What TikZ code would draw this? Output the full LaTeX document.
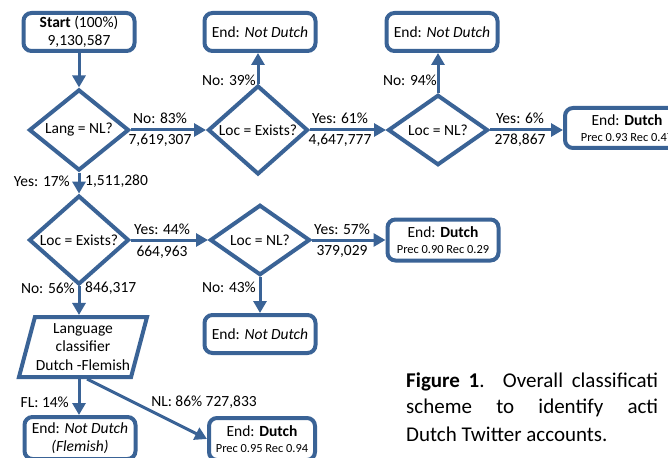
\documentclass[tikz,border=0pt]{standalone}
\usepackage{fontspec}
\setmainfont{Carlito}
\usetikzlibrary{shapes.geometric,arrows.meta}
\definecolor{flowblue}{RGB}{58,99,150}
\newcommand{\smalltxt}{\fontsize{12.4}{14}\selectfont}
\begin{document}
\begin{tikzpicture}[x=1pt,y=-1pt,>={Triangle[width=13pt,length=12pt]},
    txt/.style={font=\fontsize{15.5}{18.5}\selectfont},
    box/.style={txt,draw=flowblue,line width=4pt,rounded corners=8pt,fill=white,align=center,inner sep=1pt,minimum width=111pt,minimum height=38pt},
    dia/.style={txt,draw=flowblue,line width=4pt,diamond,inner sep=0pt,minimum width=100pt,minimum height=70pt},
    lbl/.style={txt,inner sep=0pt},
    flow/.style={->,draw=flowblue,line width=3pt}]
    \clip (0,0) rectangle (668,457);
    %\draw[gray!30,step=20pt] (0,0) grid (668,457);
    % top row
    \node[box] (start) at (79,32) {\textbf{Start} (100\%)\\9,130,587};
    \node[dia] (lang) at (79,130) {Lang = NL?};
    \node[dia] (locexa) at (258,130) {Loc = Exists?};
    \node[dia] (locnla) at (438,130) {Loc = NL?};
    \node[box] (nda) at (260,32) {End: \textit{Not Dutch}};
    \node[box] (ndb) at (442,32) {End: \textit{Not Dutch}};
    \node[box,minimum width=124pt,minimum height=40pt] (dutcha) at (627,128) {End: \textbf{Dutch}\\[-2pt]{\smalltxt Prec 0.93 Rec 0.47}};
    % second row
    \node[dia] (locexb) at (79,240) {Loc = Exists?};
    \node[dia] (locnlb) at (260,240) {Loc = NL?};
    \node[box,minimum height=41pt] (dutchb) at (443,240) {End: \textbf{Dutch}\\[-2pt]{\smalltxt Prec 0.90 Rec 0.29}};
    \node[box] (ndc) at (260,334) {End: \textit{Not Dutch}};
    % bottom
    \node[txt,draw=flowblue,line width=4pt,trapezium,trapezium left angle=72,trapezium right angle=108,
        trapezium stretches=true,align=center,inner sep=1pt,minimum width=126pt,minimum height=60pt,fill=white] (clf) at (83,347) {Language\\classifier\\Dutch -Flemish};
    \node[box,minimum height=42pt] (flem) at (80,438) {End: \textit{Not Dutch}\\\textit{(Flemish)}};
    \node[box,minimum width=106pt,minimum height=42pt] (dutchc) at (262,439) {End: \textbf{Dutch}\\[-2pt]{\smalltxt Prec 0.95 Rec 0.94}};
    % connectors
    \draw[flow] (start) -- (lang);
    \draw[flow] (lang.east) -- (locexa.west);
    \draw[flow] (locexa.east) -- (locnla.west);
    \draw[flow] (locnla.east) -- (locnla.east -| dutcha.west);
    \draw[flow] (locexa.north) -- (locexa.north |- nda.south);
    \draw[flow] (locnla.north) -- (locnla.north |- ndb.south);
    \draw[flow] (lang.south) -- (locexb.north);
    \draw[flow] (locexb.east) -- (locnlb.west);
    \draw[flow] (locnlb.east) -- (locnlb.east -| dutchb.west);
    \draw[flow] (locnlb.south) -- (locnlb.south |- ndc.north);
    \draw[flow] (locexb.south) -- (locexb.south |- clf.north);
    \draw[flow] (clf.south -| lang) -- (flem.north -| lang);
    \draw[flow] ([xshift=4pt]clf.south) -- (dutchc.west);
    % labels
    \node[lbl,anchor=east] (l39) at (256,80) {No: 39\%};
    \node[lbl,anchor=east] (l94) at (437,80) {No: 94\%};
    \node[lbl] (l83) at (160,118) {No: 83\%};
    \node[lbl] (n83) at (160,140) {7,619,307};
    \node[lbl] (l61) at (340,118) {Yes: 61\%};
    \node[lbl] (n61) at (340,140) {4,647,777};
    \node[lbl] (l6) at (520,118) {Yes: 6\%};
    \node[lbl] (n6) at (520,140) {278,867};
    \node[lbl,anchor=east] (l17) at (70,181) {Yes: 17\%};
    \node[lbl,anchor=west] (n17) at (85,181) {1,511,280};
    \node[lbl] (l44) at (162,229) {Yes: 44\%};
    \node[lbl] (n44) at (162,252) {664,963};
    \node[lbl] (l57) at (342,229) {Yes: 57\%};
    \node[lbl] (n57) at (342,251) {379,029};
    \node[lbl,anchor=east] (l56) at (75,288) {No: 56\%};
    \node[lbl,anchor=west] (n56) at (85,288) {846,317};
    \node[lbl,anchor=east] (l43) at (256,287) {No: 43\%};
    \node[lbl,anchor=east] (l14) at (69,402) {FL: 14\%};
    \node[lbl] (l86) at (204,402) {NL: 86\% 727,833};
    % caption
    \node[inner sep=0pt,anchor=west,font=\fontsize{21}{26}\selectfont] (capa) at (406,382) {\makebox[252pt][s]{\textbf{Figure 1}. Overall classificati}};
    \node[inner sep=0pt,anchor=west,font=\fontsize{21}{26}\selectfont] (capb) at (406,408) {\makebox[252pt][s]{scheme to identify acti}};
    \node[inner sep=0pt,anchor=west,font=\fontsize{21}{26}\selectfont] (capc) at (406,434) {Dutch Twitter accounts.};
\end{tikzpicture}
\end{document}
